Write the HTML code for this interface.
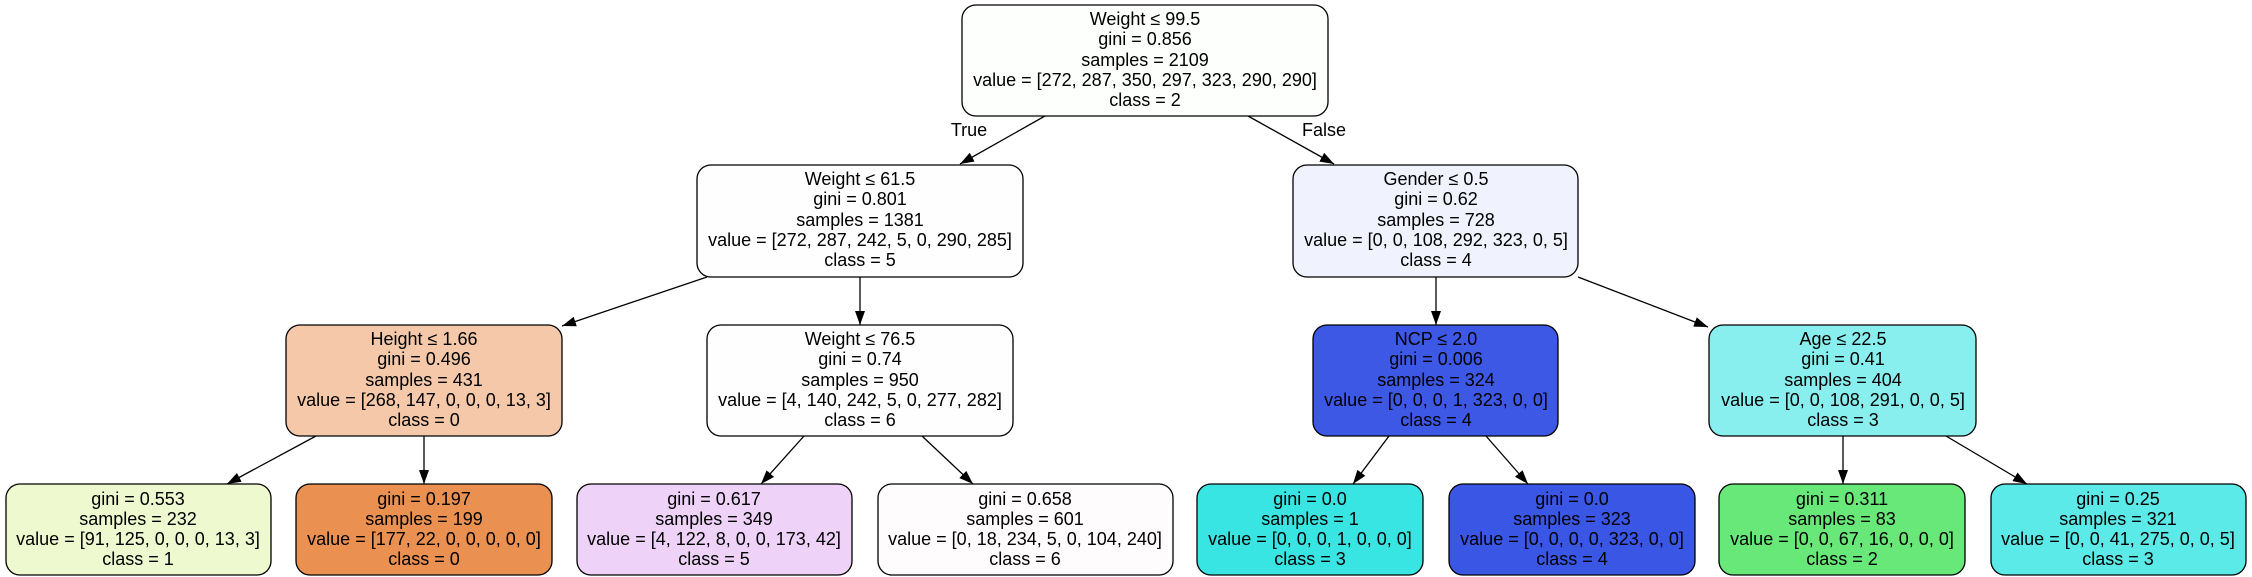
<!DOCTYPE html>
<html><head><meta charset="utf-8"><style>
html,body{margin:0;padding:0;background:#fff;}
svg{display:block;}
text{font-family:"Liberation Sans",Arial,sans-serif;font-size:18px;fill:#000;text-anchor:middle;}
rect{stroke:#000;stroke-width:1.3;}
line{stroke:#000;stroke-width:1.3;}
</style></head><body>
<svg width="2252" height="577" viewBox="0 0 2252 577" xmlns="http://www.w3.org/2000/svg">
<defs><marker id="a" markerWidth="14" markerHeight="10" refX="14" refY="5" orient="auto" markerUnits="userSpaceOnUse"><path d="M0,0 L14,5 L0,10 z" fill="#000"/></marker></defs>
<!-- edges -->
<line x1="1045" y1="116" x2="960" y2="164" marker-end="url(#a)"/>
<line x1="1248" y1="116" x2="1334" y2="164" marker-end="url(#a)"/>
<line x1="707" y1="277" x2="562" y2="326" marker-end="url(#a)"/>
<line x1="860" y1="277" x2="860" y2="325" marker-end="url(#a)"/>
<line x1="1436" y1="277" x2="1436" y2="325" marker-end="url(#a)"/>
<line x1="1578" y1="277" x2="1708" y2="327" marker-end="url(#a)"/>
<line x1="316" y1="436" x2="227" y2="484" marker-end="url(#a)"/>
<line x1="424" y1="436" x2="424" y2="484" marker-end="url(#a)"/>
<line x1="804" y1="436" x2="761" y2="484" marker-end="url(#a)"/>
<line x1="922" y1="436" x2="973" y2="484" marker-end="url(#a)"/>
<line x1="1389" y1="436" x2="1353" y2="484" marker-end="url(#a)"/>
<line x1="1486" y1="436" x2="1528" y2="484" marker-end="url(#a)"/>
<line x1="1843" y1="436" x2="1843" y2="484" marker-end="url(#a)"/>
<line x1="1946" y1="436" x2="2027" y2="484" marker-end="url(#a)"/>
<text x="969" y="136">True</text>
<text x="1324" y="136">False</text>
<!-- root -->
<rect x="962" y="5" width="366" height="111" rx="14" fill="#fcfffc"/>
<text x="1145" y="25">Weight ≤ 99.5</text><text x="1145" y="45">gini = 0.856</text><text x="1145" y="66">samples = 2109</text><text x="1145" y="86">value = [272, 287, 350, 297, 323, 290, 290]</text><text x="1145" y="106">class = 2</text>
<!-- level 2 -->
<rect x="697" y="165" width="326" height="112" rx="14" fill="#fefefe"/>
<text x="860" y="185">Weight ≤ 61.5</text><text x="860" y="205">gini = 0.801</text><text x="860" y="226">samples = 1381</text><text x="860" y="246">value = [272, 287, 242, 5, 0, 290, 285]</text><text x="860" y="266">class = 5</text>
<rect x="1293" y="165" width="285" height="112" rx="14" fill="#f0f3fd"/>
<text x="1436" y="185">Gender ≤ 0.5</text><text x="1436" y="205">gini = 0.62</text><text x="1436" y="226">samples = 728</text><text x="1436" y="246">value = [0, 0, 108, 292, 323, 0, 5]</text><text x="1436" y="266">class = 4</text>
<!-- level 3 -->
<rect x="286" y="325" width="276" height="111" rx="14" fill="#f4c8a9"/>
<text x="424" y="345">Height ≤ 1.66</text><text x="424" y="365">gini = 0.496</text><text x="424" y="386">samples = 431</text><text x="424" y="406">value = [268, 147, 0, 0, 0, 13, 3]</text><text x="424" y="426">class = 0</text>
<rect x="707" y="325" width="306" height="111" rx="14" fill="#fefefe"/>
<text x="860" y="345">Weight ≤ 76.5</text><text x="860" y="365">gini = 0.74</text><text x="860" y="386">samples = 950</text><text x="860" y="406">value = [4, 140, 242, 5, 0, 277, 282]</text><text x="860" y="426">class = 6</text>
<rect x="1313" y="325" width="245" height="111" rx="14" fill="#3c58e5"/>
<text x="1436" y="345">NCP ≤ 2.0</text><text x="1436" y="365">gini = 0.006</text><text x="1436" y="386">samples = 324</text><text x="1436" y="406">value = [0, 0, 0, 1, 323, 0, 0]</text><text x="1436" y="426">class = 4</text>
<rect x="1709" y="325" width="267" height="111" rx="14" fill="#88efee"/>
<text x="1843" y="345">Age ≤ 22.5</text><text x="1843" y="365">gini = 0.41</text><text x="1843" y="386">samples = 404</text><text x="1843" y="406">value = [0, 0, 108, 291, 0, 0, 5]</text><text x="1843" y="426">class = 3</text>
<!-- leaves -->
<rect x="6" y="484" width="265" height="91" rx="14" fill="#eff9d0"/>
<text x="138" y="505">gini = 0.553</text><text x="138" y="525">samples = 232</text><text x="138" y="545">value = [91, 125, 0, 0, 0, 13, 3]</text><text x="138" y="565">class = 1</text>
<rect x="296" y="484" width="256" height="91" rx="14" fill="#ea9152"/>
<text x="424" y="505">gini = 0.197</text><text x="424" y="525">samples = 199</text><text x="424" y="545">value = [177, 22, 0, 0, 0, 0, 0]</text><text x="424" y="565">class = 0</text>
<rect x="577" y="484" width="275" height="91" rx="14" fill="#eed2f8"/>
<text x="714" y="505">gini = 0.617</text><text x="714" y="525">samples = 349</text><text x="714" y="545">value = [4, 122, 8, 0, 0, 173, 42]</text><text x="714" y="565">class = 5</text>
<rect x="878" y="484" width="295" height="91" rx="14" fill="#fefcfd"/>
<text x="1025" y="505">gini = 0.658</text><text x="1025" y="525">samples = 601</text><text x="1025" y="545">value = [0, 18, 234, 5, 0, 104, 240]</text><text x="1025" y="565">class = 6</text>
<rect x="1197" y="484" width="226" height="91" rx="14" fill="#39e5e2"/>
<text x="1310" y="505">gini = 0.0</text><text x="1310" y="525">samples = 1</text><text x="1310" y="545">value = [0, 0, 0, 1, 0, 0, 0]</text><text x="1310" y="565">class = 3</text>
<rect x="1449" y="484" width="246" height="91" rx="14" fill="#3956e5"/>
<text x="1572" y="505">gini = 0.0</text><text x="1572" y="525">samples = 323</text><text x="1572" y="545">value = [0, 0, 0, 0, 323, 0, 0]</text><text x="1572" y="565">class = 4</text>
<rect x="1719" y="484" width="246" height="91" rx="14" fill="#68e879"/>
<text x="1842" y="505">gini = 0.311</text><text x="1842" y="525">samples = 83</text><text x="1842" y="545">value = [0, 0, 67, 16, 0, 0, 0]</text><text x="1842" y="565">class = 2</text>
<rect x="1991" y="484" width="255" height="91" rx="14" fill="#5beae7"/>
<text x="2118" y="505">gini = 0.25</text><text x="2118" y="525">samples = 321</text><text x="2118" y="545">value = [0, 0, 41, 275, 0, 0, 5]</text><text x="2118" y="565">class = 3</text>
</svg>
</body></html>
